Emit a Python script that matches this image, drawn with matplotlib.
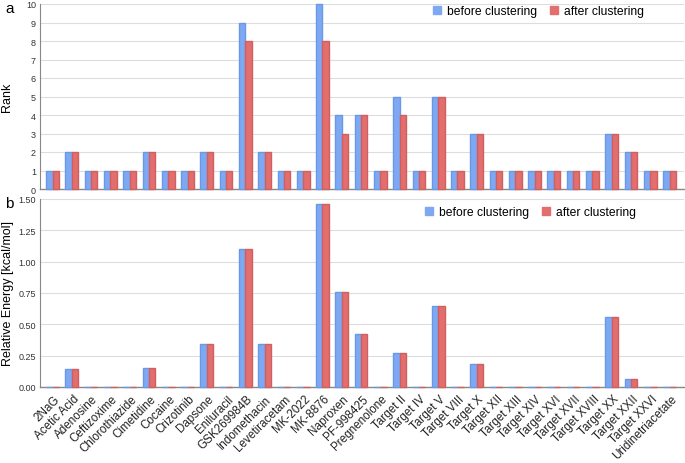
import matplotlib
matplotlib.use("Agg")
import matplotlib.pyplot as plt
import numpy as np
from matplotlib.patches import Patch

plt.rcParams['font.family'] = ['Liberation Sans', 'DejaVu Sans']

categories = ["2NaG", "Acetic Acid", "Adenosine", "Ceftizoxime", "Chlorothiazide",
              "Cimetidine", "Cocaine", "Crizotinib", "Dapsone", "Eniluracil",
              "GSK269984B", "Indomethacin", "Levetiracetam", "MK-2022", "MK-8876",
              "Naproxen", "PF-998425", "Pregnenolone", "Target II", "Target IV",
              "Target V", "Target VIII", "Target X", "Target XII", "Target XIII",
              "Target XIV", "Target XVI", "Target XVII", "Target XVIII", "Target XX",
              "Target XXII", "Target XXVI", "Uridinetriacetate"]

rank_before = [1, 2, 1, 1, 1, 2, 1, 1, 2, 1, 9, 2, 1, 1, 10, 4, 4, 1, 5, 1,
               5, 1, 3, 1, 1, 1, 1, 1, 1, 3, 2, 1, 1]
rank_after = [1, 2, 1, 1, 1, 2, 1, 1, 2, 1, 8, 2, 1, 1, 8, 3, 4, 1, 4, 1,
              5, 1, 3, 1, 1, 1, 1, 1, 1, 3, 2, 1, 1]

energy_before = [0, 0.14, 0, 0, 0, 0.155, 0, 0, 0.345, 0, 1.10, 0.345, 0, 0, 1.46,
                 0.76, 0.42, 0, 0.27, 0, 0.65, 0, 0.18, 0, 0, 0, 0, 0, 0, 0.56,
                 0.06, 0, 0]
energy_after = [0, 0.14, 0, 0, 0, 0.155, 0, 0, 0.345, 0, 1.10, 0.345, 0, 0, 1.46,
                0.76, 0.42, 0, 0.27, 0, 0.65, 0, 0.18, 0, 0, 0, 0, 0, 0, 0.56,
                0.06, 0, 0]

BLUE = "#7ea9f2"
RED = "#e26e6e"
BLUE_E = "#6a98e8"
RED_E = "#d06060"

fig = plt.figure(figsize=(6.85, 4.64), dpi=100)
W, H = 685, 464
def rect(l, t, r, b):
    return [l / W, 1 - b / H, (r - l) / W, (b - t) / H]

ax1 = fig.add_axes(rect(40, 5, 684, 190))
ax2 = fig.add_axes(rect(40, 200, 684, 388))

x = np.arange(len(categories))
bw = 0.33

def style(ax):
    for s in ['top', 'right']:
        ax.spines[s].set_visible(False)
    ax.spines['left'].set_color('#888888')
    ax.spines['bottom'].set_color('#888888')
    ax.spines['left'].set_linewidth(0.8)
    ax.spines['bottom'].set_linewidth(1.0)
    ax.grid(axis='y', color='#dddddd', linewidth=0.8)
    ax.set_axisbelow(True)
    ax.tick_params(axis='y', labelsize=6.5, length=0, pad=3, colors='#333333')
    ax.tick_params(axis='x', length=0)
    ax.set_xlim(-0.65, len(categories) - 0.25)

for ax, b, a in [(ax1, rank_before, rank_after), (ax2, energy_before, energy_after)]:
    ax.bar(x - bw / 2, b, bw, color=BLUE, edgecolor=BLUE_E, linewidth=1.0,
           zorder=3, clip_on=False)
    ax.bar(x + bw / 2, a, bw, color=RED, edgecolor=RED_E, linewidth=1.0,
           zorder=3, clip_on=False)
    style(ax)

ax1.set_ylim(0, 10)
ax1.set_yticks(range(0, 11))
ax1.set_xticks(x)
ax1.set_xticklabels([])
ax1.set_ylabel("Rank", fontsize=9, labelpad=9)

ax2.set_ylim(0, 1.5)
ax2.set_yticks([0, 0.25, 0.5, 0.75, 1.0, 1.25, 1.5])
ax2.set_yticklabels(["0.00", "0.25", "0.50", "0.75", "1.00", "1.25", "1.50"])
ax2.set_xticks(x + 0.05)
ax2.set_xticklabels(categories, rotation=45, ha='right', rotation_mode='anchor',
                    fontsize=8.4, color='#222222')
ax2.tick_params(axis='x', pad=4)
ax2.set_ylabel("Relative Energy [kcal/mol]", fontsize=9, labelpad=3)

handles = [Patch(color=BLUE, label="before clustering"),
           Patch(color=RED, label="after clustering")]
for ax, y, r in [(ax1, 12, 655), (ax2, 213, 647)]:
    ax.legend(handles=handles, loc='center right', bbox_to_anchor=(r / W, 1 - y / H),
              bbox_transform=fig.transFigure, ncol=2, frameon=False, fontsize=8.7,
              handlelength=0.7, handleheight=0.7, handletextpad=0.5, columnspacing=1.0)

fig.text(5 / W, 1 - 9 / H, "a", fontsize=11, va='center', ha='left')
fig.text(5 / W, 1 - 204 / H, "b", fontsize=11, va='center', ha='left')

fig.savefig("out.png", dpi=100)
